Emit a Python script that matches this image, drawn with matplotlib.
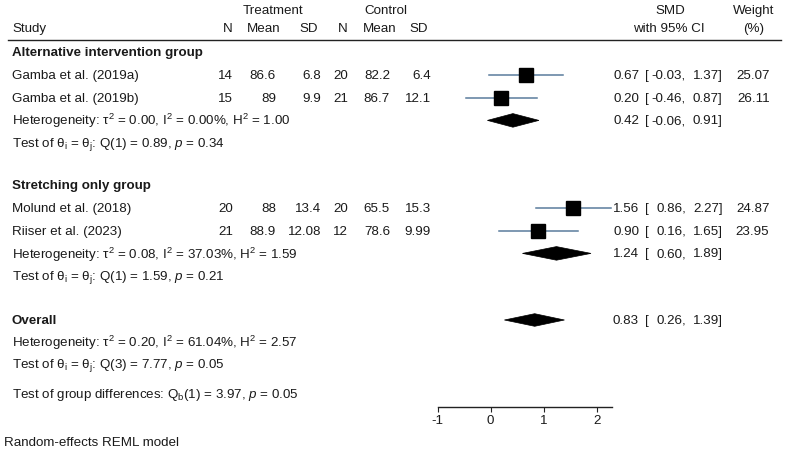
import matplotlib
matplotlib.use('Agg')
import matplotlib.pyplot as plt
from matplotlib.patches import Polygon

FS = 9.6
plt.rcParams['font.family'] = ['Liberation Sans', 'DejaVu Sans']
plt.rcParams['font.size'] = FS
plt.rcParams['mathtext.fontset'] = 'custom'
plt.rcParams['mathtext.rm'] = 'Liberation Sans'
plt.rcParams['mathtext.it'] = 'Liberation Sans:italic'
plt.rcParams['mathtext.bf'] = 'Liberation Sans:bold'

# Study data
studies = ['Gamba et al. (2019a)', 'Gamba et al. (2019b)', 'Molund et al. (2018)', 'Riiser et al. (2023)']
study_group = [0, 0, 1, 1]
trt_n = [14, 15, 20, 21]
trt_mean = [86.6, 89, 88, 88.9]
trt_sd = [6.8, 9.9, 13.4, 12.08]
ctl_n = [20, 21, 20, 12]
ctl_mean = [82.2, 86.7, 65.5, 78.6]
ctl_sd = [6.4, 12.1, 15.3, 9.99]
smd = [0.67, 0.20, 1.56, 0.90]
smd_lo = [-0.03, -0.46, 0.86, 0.16]
smd_hi = [1.37, 0.87, 2.27, 1.65]
weight = [25.07, 26.11, 24.87, 23.95]

# Subgroup summaries
group_names = ['Alternative intervention group', 'Stretching only group']
group_smd = [0.42, 1.24]
group_lo = [-0.06, 0.60]
group_hi = [0.91, 1.89]
group_tau2 = [0.00, 0.08]
group_i2 = [0.00, 37.03]
group_h2 = [1.00, 1.59]
group_qdf = [1, 1]
group_q = [0.89, 1.59]
group_p = [0.34, 0.21]

# Overall
overall_smd, overall_lo, overall_hi = 0.83, 0.26, 1.39
overall_tau2, overall_i2, overall_h2 = 0.20, 61.04, 2.57
overall_qdf, overall_q, overall_p = 3, 7.77, 0.05
qb_df, qb, qb_p = 1, 3.97, 0.05
axis_ticks = [-1, 0, 1, 2]

W, H = 786, 452
fig = plt.figure(figsize=(W / 100, H / 100), dpi=100)
tx = fig.add_axes([0, 0, 1, 1])
tx.set_xlim(0, W)
tx.set_ylim(H, 0)
tx.axis('off')

# forest axes: bottom spine at y=408 px
ax_y = 408
x0, x1 = 437.5, 611.7
fx = fig.add_axes([x0 / W, (H - ax_y) / H, (x1 - x0) / W, ax_y / H])
fx.set_xlim(-1, 2.28)
fx.set_ylim(ax_y, 0)
fx.patch.set_alpha(0)
for s in ['top', 'right', 'left']:
    fx.spines[s].set_visible(False)
fx.spines['bottom'].set_color('#222222')
fx.spines['bottom'].set_linewidth(1)
fx.set_yticks([])
fx.set_xticks(axis_ticks)
fx.set_xticklabels([str(t) for t in axis_ticks])
fx.tick_params(axis='x', length=3.5, width=0.8, color='#222222', pad=1.5, labelsize=FS, labelcolor='#1a1a1a')

TC = '#1a1a1a'
CI_COL = '#5a7c9c'


def txt(x, y, s, ha='left', **kw):
    return tx.text(x, y, s, ha=ha, va='center', color=TC, fontsize=FS, **kw)


def het_text(tau2, i2, h2):
    return (r'Heterogeneity: τ$^\mathregular{2}$ = %.2f, I$^\mathregular{2}$ = %.2f%%, '
            r'H$^\mathregular{2}$ = %.2f' % (tau2, i2, h2))


def q_text(df, q, p):
    return (r'Test of θ$_\mathregular{i}$ = θ$_\mathregular{j}$: Q(%d) = %.2f, $\mathit{p}$ = %.2f'
            % (df, q, p))


def ci_text(y, est, lo, hi):
    txt(639, y, '%.2f' % est, ha='right')
    txt(645, y, '[')
    txt(686, y, '%.2f,' % lo, ha='right')
    txt(722.5, y, '%.2f]' % hi, ha='right')


def diamond(y, est, lo, hi, h=6.8):
    fx.add_patch(Polygon([(lo, y), (est, y - h), (hi, y), (est, y + h)],
                         closed=True, facecolor='black', edgecolor='black', lw=0.5))


# header
txt(273, 11, 'Treatment', ha='center')
txt(386, 11, 'Control', ha='center')
txt(670, 11, 'SMD', ha='center')
txt(754, 11, 'Weight', ha='center')
txt(12, 29, 'Study')
txt(233, 29, 'N', ha='right')
txt(281, 29, 'Mean', ha='right')
txt(318, 29, 'SD', ha='right')
txt(348, 29, 'N', ha='right')
txt(396, 29, 'Mean', ha='right')
txt(428, 29, 'SD', ha='right')
txt(669, 29, 'with 95% CI', ha='center')
txt(754, 29, '(%)', ha='center')
tx.plot([8, 781], [41, 41], color='#222222', lw=1)

group_top = [53, 186]
step = 22.8
for g, gname in enumerate(group_names):
    y = group_top[g]
    txt(12, y, gname, fontweight='bold')
    for i in [k for k, sg in enumerate(study_group) if sg == g]:
        y += step
        txt(12, y, studies[i])
        txt(233, y, '%g' % trt_n[i], ha='right')
        txt(276, y, '%g' % trt_mean[i], ha='right')
        txt(321, y, '%g' % trt_sd[i], ha='right')
        txt(348, y, '%g' % ctl_n[i], ha='right')
        txt(390, y, '%g' % ctl_mean[i], ha='right')
        txt(431, y, '%g' % ctl_sd[i], ha='right')
        ci_text(y, smd[i], smd_lo[i], smd_hi[i])
        txt(769.5, y, '%.2f' % weight[i], ha='right')
        fx.plot([smd_lo[i], smd_hi[i]], [y, y], color=CI_COL, lw=1.1, zorder=2)
        fx.plot(smd[i], y, marker='s', color='black', zorder=3,
                markersize=10.3 * (weight[i] / 25) ** 0.5)
    y += step
    txt(12, y, het_text(group_tau2[g], group_i2[g], group_h2[g]))
    ci_text(y, group_smd[g], group_lo[g], group_hi[g])
    diamond(y, group_smd[g], group_lo[g], group_hi[g])
    y += step
    txt(12, y, q_text(group_qdf[g], group_q[g], group_p[g]))

# overall
y = 321
txt(12, y, 'Overall', fontweight='bold')
ci_text(y, overall_smd, overall_lo, overall_hi)
diamond(y, overall_smd, overall_lo, overall_hi, h=6.3)
txt(12, y + 22, het_text(overall_tau2, overall_i2, overall_h2))
txt(12, y + 44, q_text(overall_qdf, overall_q, overall_p))
txt(12, 395, r'Test of group differences: Q$_\mathregular{b}$(%d) = %.2f, $\mathit{p}$ = %.2f' % (qb_df, qb, qb_p))
txt(4, 443, 'Random-effects REML model')

fig.savefig('out.png', dpi=100)
